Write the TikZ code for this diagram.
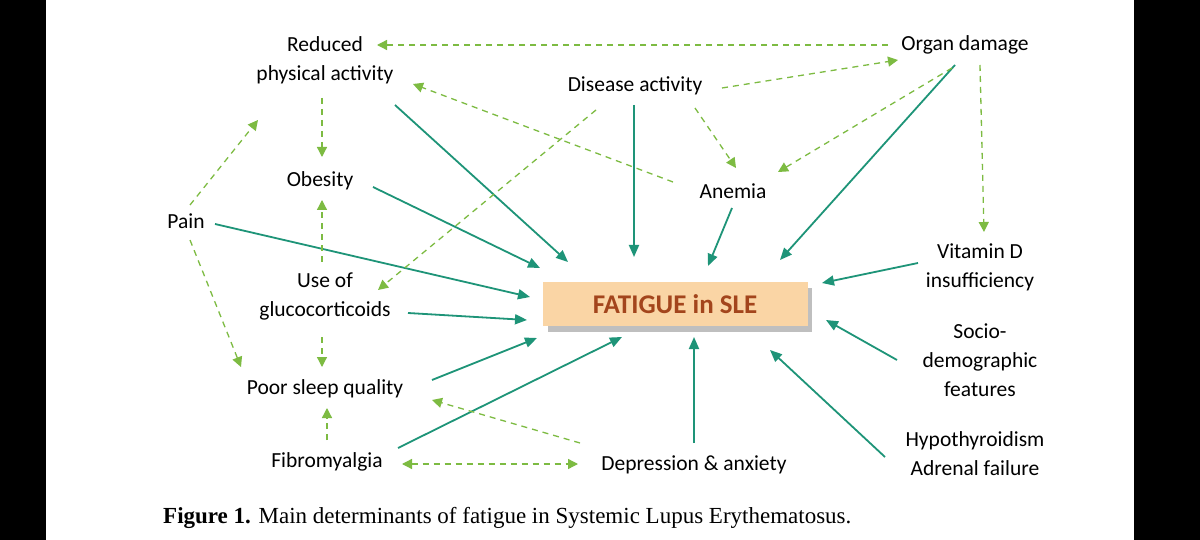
\documentclass[tikz,border=0pt]{standalone}
\usepackage{fontspec}
\setmainfont{Liberation Serif}
\newfontfamily\lab{Carlito}
\usetikzlibrary{arrows.meta}
\definecolor{teal1}{HTML}{1E9478}
\definecolor{lgreen}{HTML}{7DBB42}
\definecolor{boxfill}{HTML}{FAD5A5}
\definecolor{boxtext}{HTML}{A3451C}
\begin{document}
\begin{tikzpicture}[x=1pt,y=-1pt,
  lbl/.style={font=\lab\fontsize{21.5}{29}\selectfont,align=center,inner sep=5pt},
  sol/.style={draw=teal1,line width=1.8pt,-{Triangle[length=12pt,width=10pt]}},
  dsh/.style={draw=lgreen,line width=1.3pt,dash pattern=on 6pt off 5pt,-{Triangle[length=10pt,width=10pt]}},
  dsh2/.style={dsh,{Triangle[length=10pt,width=10pt]}-{Triangle[length=10pt,width=10pt]}}]
\fill[black] (0,0) rectangle (1200,540);
\fill[white] (46,0) rectangle (1134,540);
\useasboundingbox (0,0) rectangle (1200,540);
\node[lbl] (red) at (325,60) {Reduced\\physical activity};
\node[lbl] (org) at (965,45) {Organ damage};
\node[lbl] (dis) at (635,86) {Disease activity};
\node[lbl] (obe) at (320,181) {Obesity};
\node[lbl] (ane) at (733,191) {Anemia};
\node[lbl] (pain) at (186,221) {Pain};
\node[lbl] (vit) at (980,267) {Vitamin D\\insufficiency};
\node[lbl] (glu) at (325,296) {Use of\\glucocorticoids};
\fill[black!25] (548,288) rectangle (812,332);
\node[fill=boxfill,minimum width=265pt,minimum height=44pt,font=\lab\bfseries\fontsize{27}{30}\selectfont,text=boxtext] (fat) at (675,304) {FATIGUE in SLE};
\node[lbl] (soc) at (980,360) {Socio-\\demographic\\features};
\node[lbl] (sleep) at (325,389) {Poor sleep quality};
\node[lbl] (hyp) at (975,454) {Hypothyroidism\\Adrenal failure};
\node[lbl] (fib) at (327,462) {Fibromyalgia};
\node[lbl] (dep) at (694,465) {Depression \& anxiety};
\node[font=\fontsize{23}{26}\selectfont,anchor=west,inner sep=0pt] (cap) at (163,518) {\textbf{Figure 1.} Main determinants of fatigue in Systemic Lupus Erythematosus.};
% end points
\foreach \n/\x/\y in {fRed/568/262, fObe/540/268, fPain/530/297, fGlu/527/320, fSleep/537/338,
  fFib/622/337, fDep/694/337, fHyp/770/350, fSoc/826/320, fVit/822/283, fOrg/780/260, fAne/708/266, fDis/634/257,
  sRed/395/105, sObe/373/187, sPain/215/224, sGlu/408/313, sSleep/432/380, sFib/398/448, sDep/694/443,
  sHyp/885/457, sSoc/897/360, sVit/918/263, sOrg/955/65, sAne/732/208, sDis/634/105,
  d1a/888/45, d1b/377/45, d2a/722/88, d2b/898/60, d3a/980/65, d3b/984/232, d4a/952/68, d4b/778/172,
  d5a/695/108, d5b/736/168, d6a/673/182, d6b/413/84, d7a/596/110, d7b/378/290, d8a/322/98, d8b/322/157,
  d9a/322/262, d9b/322/200, d10a/322/337, d10b/322/367, d11a/327/440, d11b/327/408, d12a/580/443, d12b/432/400,
  d13a/402/464, d13b/578/464, d14a/190/205, d14b/258/120, d15a/190/240, d15b/241/367}
  {\coordinate (\n) at (\x,\y);}
\foreach \a/\b in {sRed/fRed, sObe/fObe, sPain/fPain, sGlu/fGlu, sSleep/fSleep, sFib/fFib, sDep/fDep,
  sHyp/fHyp, sSoc/fSoc, sVit/fVit, sOrg/fOrg, sAne/fAne, sDis/fDis}
  {\draw[sol] (\a) -- (\b);}
\foreach \a/\b in {d1a/d1b, d2a/d2b, d3a/d3b, d4a/d4b, d5a/d5b, d6a/d6b, d7a/d7b, d8a/d8b, d9a/d9b,
  d10a/d10b, d11a/d11b, d12a/d12b, d14a/d14b, d15a/d15b}
  {\draw[dsh] (\a) -- (\b);}
\draw[dsh2] (d13a) -- (d13b);
\end{tikzpicture}
\end{document}
